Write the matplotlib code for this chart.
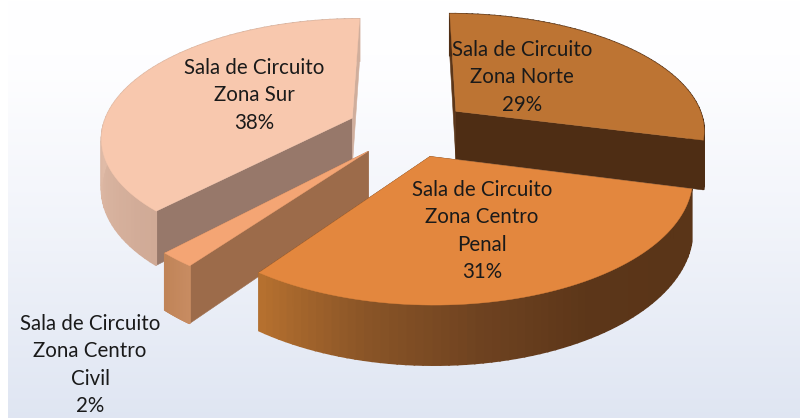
import numpy as np
import matplotlib
matplotlib.use("Agg")
import matplotlib.pyplot as plt
from matplotlib.colors import to_rgb

# data
categories = [
    "Sala de Circuito\nZona Norte",
    "Sala de Circuito\nZona Centro\nPenal",
    "Sala de Circuito\nZona Centro\nCivil",
    "Sala de Circuito\nZona Sur",
]
values = [29, 31, 2, 38]

# styles, same order as categories
top_colors = ["#BD7433", "#E3873E", "#F4A574", "#F8C8AE"]
face_colors = ["#4E2D14", "#4E2D14", "#9C6B4A", "#97786A"]
wall_colors = [
    ["#4E2D14", "#4E2D14"],
    ["#5A3518", "#5A3518", "#5C3619", "#6E4220", "#8A5527", "#B5702F"],
    ["#C88C62", "#C08458"],
    ["#D0AA96", "#E0BBA7", "#D8B19C", "#D0AE9C"],
]
label_xy = [(522, 40), (482, 180), (90, 314), (254, 58)]
draw_order = [3, 0, 2, 1]

# projection of the tilted disc onto pixels
CX, CY = 408.5, 128.5
A, B = 250, 117
K = 0.15
H = 49
EXPLODE = 0.245


def project(x, y, z=0.0):
    w = 1 + K * y
    return CX + A * x / w, CY - B * y / w + H * z / w


def ramp(colors, t):
    rgb = np.array([to_rgb(c) for c in colors])
    pos = np.linspace(0, 1, len(colors))
    return tuple(np.interp(t, pos, rgb[:, i]) for i in range(3))


fig = plt.figure(figsize=(8, 4.18), dpi=100)
ax = fig.add_axes([0, 0, 1, 1])

# background gradient, white strip on the left
rows = np.arange(418)
grad = np.ones((418, 1, 3))
grad[:, 0, 0] = np.interp(rows, [0, 70, 230, 418], [1, 0.995, 0.945, 0.875])
grad[:, 0, 1] = np.interp(rows, [0, 70, 230, 418], [1, 0.995, 0.955, 0.90])
grad[:, 0, 2] = np.interp(rows, [0, 70, 230, 418], [1, 1, 0.98, 0.95])
ax.imshow(grad, extent=(8, 800, 418, 0), aspect="auto", zorder=0)
ax.set_xlim(0, 800)
ax.set_ylim(418, 0)
ax.axis("off")

edges = np.cumsum([0] + values) / sum(values) * 2 * np.pi

for i in draw_order:
    a0, a1 = edges[i], edges[i + 1]
    mid = (a0 + a1) / 2
    ox, oy = EXPLODE * np.sin(mid), EXPLODE * np.cos(mid)
    th = np.linspace(a0, a1, 70)
    xs = ox + np.sin(th)
    ys = oy + np.cos(th)

    # cut faces
    for a in (a0, a1):
        ex, ey = ox + np.sin(a), oy + np.cos(a)
        pts = [project(ox, oy), project(ex, ey), project(ex, ey, 1), project(ox, oy, 1)]
        col = face_colors[i]
        if i == 0 and a == a0:
            col = "#5C3618"
        if i == 3 and a == a1:
            col = "#D0AE9C"
        ax.fill(*zip(*pts), color=col, lw=0.4, zorder=1)

    # outer wall as small strips
    for j in range(len(th) - 1):
        t = j / (len(th) - 2)
        p = [project(xs[j], ys[j]), project(xs[j + 1], ys[j + 1]),
             project(xs[j + 1], ys[j + 1], 1), project(xs[j], ys[j], 1)]
        ax.fill(*zip(*p), color=ramp(wall_colors[i], t), lw=1.2, zorder=1)

    # top
    px, py = project(np.r_[ox, xs], np.r_[oy, ys])
    ax.fill(px, py, color=top_colors[i], lw=0.3, zorder=1)

for i, name in enumerate(categories):
    pct = round(100 * values[i] / sum(values))
    ax.text(label_xy[i][0], label_xy[i][1], f"{name}\n{pct}%", family="Lato",
            fontsize=14.8, color="#1a1a1a", ha="center", va="top",
            linespacing=1.46, zorder=3)

fig.savefig("out.png", dpi=100)
